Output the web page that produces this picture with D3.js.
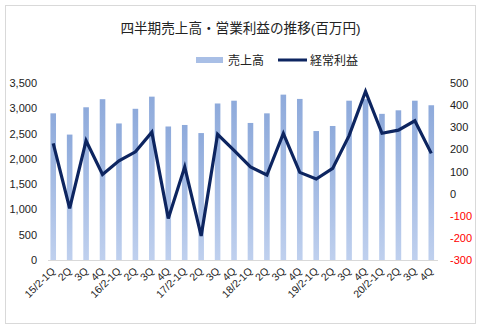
<!DOCTYPE html>
<html><head><meta charset="utf-8">
<script src="https://cdn.jsdelivr.net/npm/d3@7"></script>
<style>body{margin:0;background:#fff}svg{display:block}</style>
</head><body>
<svg id="c" width="484" height="332"></svg>
<script>
const categories = ["15/2-1Q","2Q","3Q","4Q","16/2-1Q","2Q","3Q","4Q","17/2-1Q","2Q","3Q","4Q",
  "18/2-1Q","2Q","3Q","4Q","19/2-1Q","2Q","3Q","4Q","20/2-1Q","2Q","3Q","4Q"];
const sales = [2900,2480,3020,3180,2700,2990,3230,2640,2670,2510,3095,3150,
  2710,2900,3270,3185,2550,2650,3150,3180,2890,2960,3150,3060];
const profit = [227,-67,239,87,148,189,278,-112,121,-191,268,195,
  121,84,272,96,66,114,262,462,273,287,329,182];
const leftTicks = [0,500,1000,1500,2000,2500,3000,3500];
const rightTicks = [-300,-200,-100,0,100,200,300,400,500];
const title = "四半期売上高・営業利益の推移(百万円)";
const legendNames = ["売上高","経常利益"];

const FONT = "'Liberation Sans', Arial, 'Noto Sans CJK JP', sans-serif";
const svg = d3.select("#c");
svg.style("font-family", FONT);

const defs = svg.append("defs");
const g1 = defs.append("linearGradient").attr("id","barg").attr("x1",0).attr("y1",0).attr("x2",0).attr("y2",1);
g1.append("stop").attr("offset","0%").attr("stop-color","#8eaadb");
g1.append("stop").attr("offset","100%").attr("stop-color","#bfd0ee");

// frame
svg.append("rect").attr("x",5.5).attr("y",5.5).attr("width",470).attr("height",318)
  .attr("fill","#fff").attr("stroke","#d9d9d9");

const x = d3.scaleBand().domain(d3.range(categories.length)).range([45,439.5]).paddingInner(0.66).paddingOuter(0.33);
const yL = d3.scaleLinear().domain([0,3500]).range([260,83]);
const yR = d3.scaleLinear().domain([-300,500]).range([260,83]);

// title
svg.append("text").attr("x",240.5).attr("y",33).attr("text-anchor","middle")
  .attr("font-size",13.6).attr("fill","#222").text(title);

// legend
svg.append("rect").attr("x",196).attr("y",57).attr("width",27).attr("height",6).attr("fill","#a9bfe6");
svg.append("text").attr("x",228).attr("y",64.5).attr("font-size",12).attr("fill","#222").text(legendNames[0]);
svg.append("line").attr("x1",278).attr("x2",307).attr("y1",60).attr("y2",60).attr("stroke","#0d2560").attr("stroke-width",3);
svg.append("text").attr("x",310).attr("y",64.5).attr("font-size",12).attr("fill","#222").text(legendNames[1]);

// bars
svg.append("g").selectAll("rect").data(sales).join("rect")
  .attr("x",(d,i)=>x(i)).attr("width",x.bandwidth())
  .attr("y",d=>yL(d)).attr("height",d=>yL(0)-yL(d))
  .attr("fill","url(#barg)");

// baseline
svg.append("line").attr("x1",48).attr("x2",438).attr("y1",260.5).attr("y2",260.5)
  .attr("stroke","#d9d9d9").attr("stroke-width",1.2);

// left axis
const axL = svg.append("g").attr("transform","translate(37,0)")
  .call(d3.axisLeft(yL).tickValues(leftTicks).tickSize(0).tickPadding(0).tickFormat(d3.format(",")));
axL.select(".domain").remove();
axL.selectAll("text").attr("font-size",11).attr("font-family",FONT).attr("fill","#222");

// right axis
const axR = svg.append("g").attr("transform","translate(450,0)")
  .call(d3.axisRight(yR).tickValues(rightTicks).tickSize(0).tickPadding(0).tickFormat(d=>d<0?"-"+Math.abs(d):d));
axR.select(".domain").remove();
axR.selectAll("text").attr("font-size",11).attr("font-family",FONT).attr("fill",d=>d<0?"#ff0000":"#222");

// x axis labels
const axX = svg.append("g").attr("transform","translate(0,263)")
  .call(d3.axisBottom(x).tickSize(0).tickPadding(0).tickFormat(i=>categories[i]));
axX.select(".domain").remove();
axX.selectAll("text").attr("font-size",10.5).attr("font-family",FONT).attr("fill","#222")
  .attr("text-anchor","end").attr("dy","0.35em")
  .attr("transform","translate(0,6) rotate(-45)");

// line
const line = d3.line().x((d,i)=>x(i)+x.bandwidth()/2).y(d=>yR(d));
svg.append("path").datum(profit).attr("d",line).attr("fill","none")
  .attr("stroke","#0d2560").attr("stroke-width",3.2).attr("stroke-linejoin","miter");
</script>
</body></html>
